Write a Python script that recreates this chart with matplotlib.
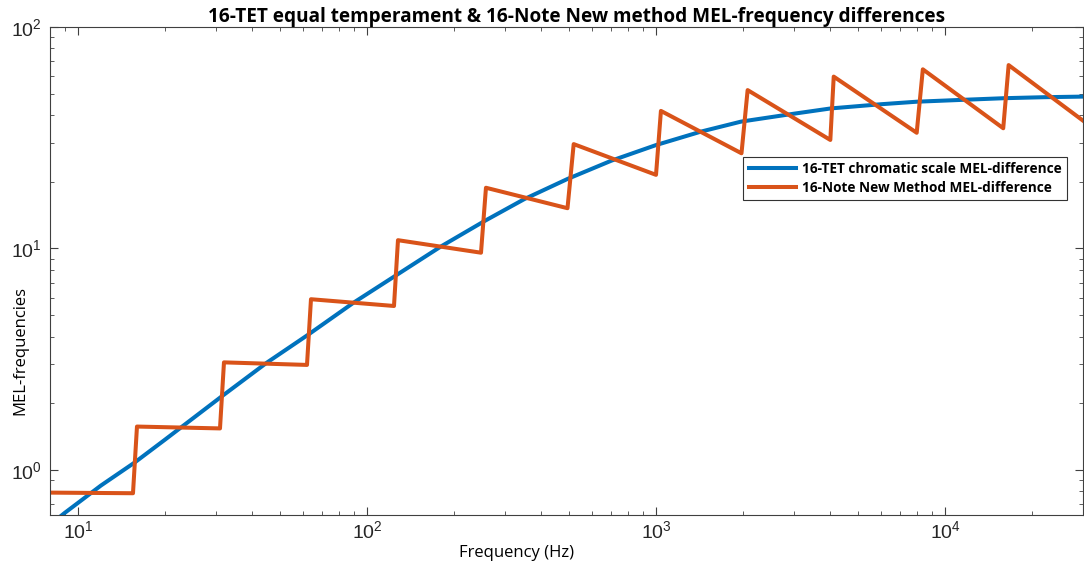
import matplotlib
matplotlib.use("Agg")
import matplotlib.pyplot as plt

# values
tet_freq = [8.6, 9, 10, 12, 15.7, 20, 31.3, 45, 62.4, 90, 124, 180, 255, 350, 494,
            700, 1000, 1430, 1970, 3000, 4030, 6000, 8000, 12000, 16000, 22000, 30000]
tet_mel = [0.61, 0.64, 0.71, 0.85, 1.08, 1.37, 2.14, 3.05, 4.07, 5.7, 7.46, 10.2, 13.3,
           16.7, 20.6, 24.9, 29.3, 33.7, 37.4, 40.6, 42.9, 44.8, 46.0, 47.0, 47.7, 48.2, 48.5]

new_freq = [8, 15.5, 16, 31, 32, 62, 64, 124, 128, 248, 258, 494, 519, 1000, 1040,
            1976, 2075, 4010, 4120, 7980, 8380, 15900, 16600, 30000]
new_mel = [0.79, 0.785, 1.57, 1.54, 3.06, 2.98, 5.9, 5.5, 10.9, 9.57, 18.8, 15.2, 29.6,
           21.5, 41.8, 26.9, 51.9, 30.9, 59.7, 33.3, 64.4, 34.9, 67.3, 37.8]

plt.rcParams['font.family'] = ['Liberation Sans', 'DejaVu Sans']
plt.rcParams['mathtext.fontset'] = 'custom'
plt.rcParams['mathtext.rm'] = 'Liberation Sans'

fig = plt.figure(figsize=(10.84, 5.65), dpi=100)
ax = fig.add_axes([0.0461, 0.0885, 0.9529, 0.8637])

ax.plot(tet_freq, tet_mel, color='#0072BD', lw=2.9, label='16-TET chromatic scale MEL-difference')
ax.plot(new_freq, new_mel, color='#D95319', lw=2.9, label='16-Note New Method MEL-difference')

ax.set_xscale('log')
ax.set_yscale('log')
ax.set_xlim(8, 30000)
ax.set_ylim(0.626, 100)

for s in ax.spines.values():
    s.set_color('#404040')
    s.set_linewidth(0.8)
ax.tick_params(which='both', direction='in', top=True, right=True, colors='#404040',
               labelcolor='#262626', labelsize=14)
ax.tick_params(which='major', length=5.5)
ax.tick_params(which='minor', length=3)
ax.tick_params(axis='x', pad=4)
ax.tick_params(axis='y', pad=6)

ax.set_title('16-TET equal temperament & 16-Note New method MEL-frequency differences',
             family='Open Sans', fontweight='bold', fontsize=13.7, pad=3, x=0.51)
ax.set_xlabel('Frequency (Hz)', family='Open Sans', fontsize=12)
ax.set_ylabel('MEL-frequencies', family='Open Sans', fontsize=12)
ax.xaxis.set_label_coords(0.452, -0.062)
ax.yaxis.set_label_coords(-0.021, 0.338)

leg = ax.legend(loc='upper right', bbox_to_anchor=(0.991, 0.748), fancybox=False,
                edgecolor='#333333', framealpha=1, handlelength=3.5,
                prop={'family': 'Open Sans', 'weight': 'bold', 'size': 9.8},
                borderpad=0.4, labelspacing=0.35, handletextpad=0.4)
leg.get_frame().set_linewidth(0.8)

fig.savefig('out.png', dpi=100)
